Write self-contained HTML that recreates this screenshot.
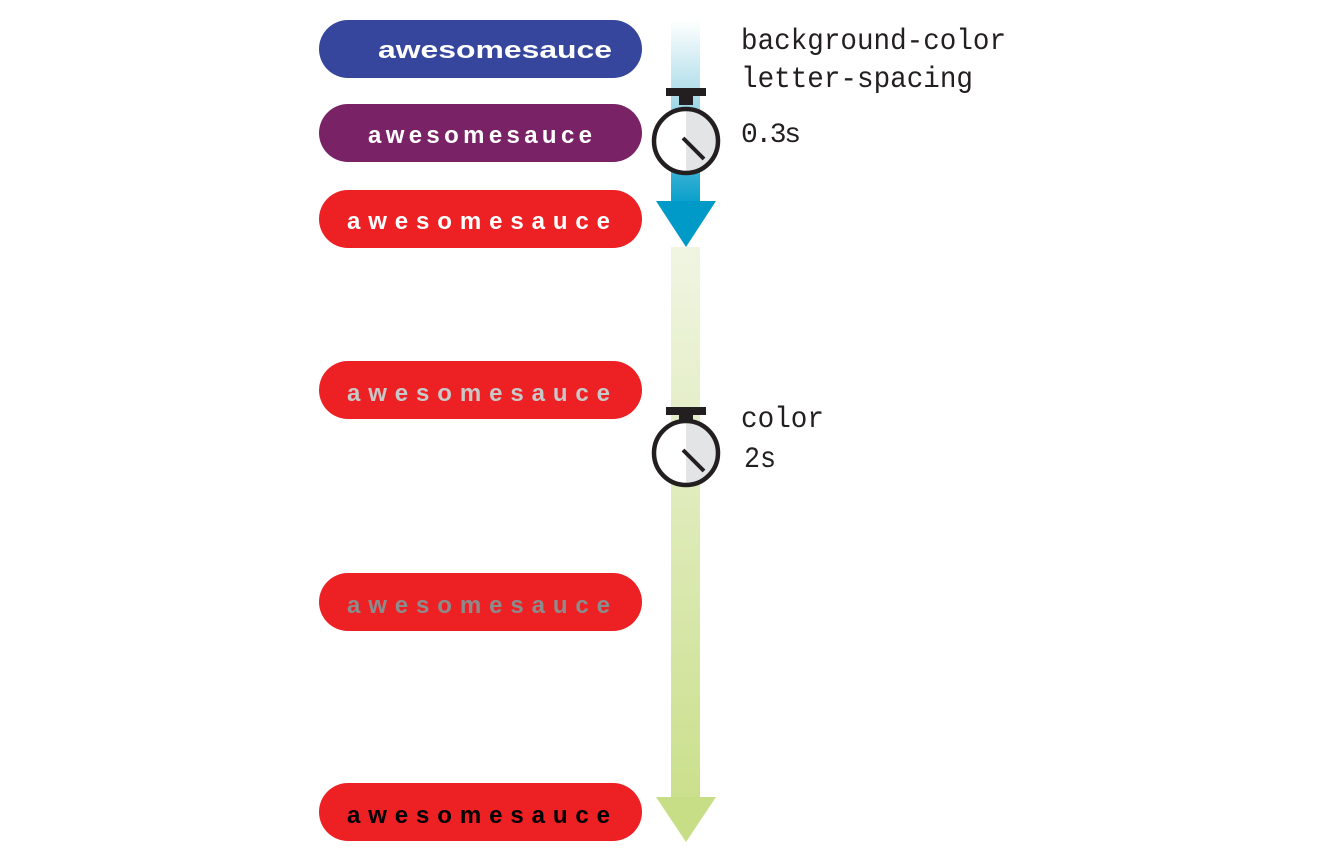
<!DOCTYPE html>
<html><head><meta charset="utf-8"><style>
html,body{margin:0;padding:0;background:#fff;width:1337px;height:854px;overflow:hidden}
svg{display:block}
.p{font-family:"Liberation Sans",Arial,sans-serif;font-weight:bold;font-size:24px}
.m{font-family:"Liberation Mono",monospace;font-size:30px;fill:#231f20}
</style></head><body>
<svg width="1337" height="854" viewBox="0 0 1337 854" xmlns="http://www.w3.org/2000/svg">
<defs>
<linearGradient id="gb" x1="0" y1="20" x2="0" y2="247" gradientUnits="userSpaceOnUse">
<stop offset="0" stop-color="#fff"/><stop offset="0.35" stop-color="#a9dbe8"/><stop offset="0.8" stop-color="#0aa0cc"/><stop offset="1" stop-color="#009ac8"/></linearGradient>
<linearGradient id="gg" x1="0" y1="247" x2="0" y2="842" gradientUnits="userSpaceOnUse">
<stop offset="0" stop-color="#f0f5e2"/><stop offset="1" stop-color="#c8de86"/></linearGradient>
</defs>
<rect x="671" y="247" width="29" height="552" fill="url(#gg)"/>
<polygon points="656,797 716,797 686,842" fill="#c8de86"/>
<rect x="671" y="20" width="29" height="182" fill="url(#gb)"/>
<polygon points="656,201 716,201 686,247" fill="#009ac8"/>
<rect x="319" y="20" width="323" height="58" rx="29" fill="#36469c"/>
<text class="p" x="378" y="58" fill="#fff" textLength="234" lengthAdjust="spacingAndGlyphs">awesomesauce</text>
<rect x="319" y="104" width="323" height="58" rx="29" fill="#7a2266"/>
<text class="p" x="368" y="143" fill="#fff" textLength="224" lengthAdjust="spacing">awesomesauce</text>
<rect x="319" y="190" width="323" height="58" rx="29" fill="#ed2024"/>
<text class="p" x="347" y="229" fill="#fff" textLength="263" lengthAdjust="spacing">awesomesauce</text>
<rect x="319" y="361" width="323" height="58" rx="29" fill="#ed2024"/>
<text class="p" x="347" y="401" fill="#c8c8c8" textLength="263" lengthAdjust="spacing">awesomesauce</text>
<rect x="319" y="573" width="323" height="58" rx="29" fill="#ed2024"/>
<text class="p" x="347" y="613" fill="#8c8c8c" textLength="263" lengthAdjust="spacing">awesomesauce</text>
<rect x="319" y="783" width="323" height="58" rx="29" fill="#ed2024"/>
<text class="p" x="347" y="823" fill="#000" textLength="263" lengthAdjust="spacing">awesomesauce</text>
<g transform="translate(686,141)">
<rect x="-20" y="-53" width="40" height="8" fill="#231f20"/>
<rect x="-7" y="-46" width="14" height="10" fill="#231f20"/>
<circle r="32" fill="#fff"/>
<path d="M0,0 L0,-32 A32,32 0 0 1 0,32 Z" fill="#e3e4e6"/>
<circle r="32" fill="none" stroke="#231f20" stroke-width="4.5"/>
<line x1="-3" y1="-3" x2="18" y2="18" stroke="#231f20" stroke-width="4"/>
</g>
<g transform="translate(686,453)">
<rect x="-20" y="-46" width="40" height="8" fill="#231f20"/>
<rect x="-7" y="-40" width="14" height="8" fill="#231f20"/>
<circle r="32" fill="#fff"/>
<path d="M0,0 L0,-32 A32,32 0 0 1 0,32 Z" fill="#e3e4e6"/>
<circle r="32" fill="none" stroke="#231f20" stroke-width="4.5"/>
<line x1="-3" y1="-3" x2="18" y2="18" stroke="#231f20" stroke-width="4"/>
</g>
<text class="m" x="741" y="49" textLength="265" lengthAdjust="spacingAndGlyphs">background-color</text>
<text class="m" x="741" y="87" textLength="232" lengthAdjust="spacingAndGlyphs">letter-spacing</text>
<text class="m" x="741" y="142" textLength="60" lengthAdjust="spacing" style="font-size:28px">0.3s</text>
<text class="m" x="741" y="427" textLength="83" lengthAdjust="spacingAndGlyphs">color</text>
<text class="m" x="744" y="467" textLength="32" lengthAdjust="spacingAndGlyphs">2s</text>
</svg>
</body></html>
